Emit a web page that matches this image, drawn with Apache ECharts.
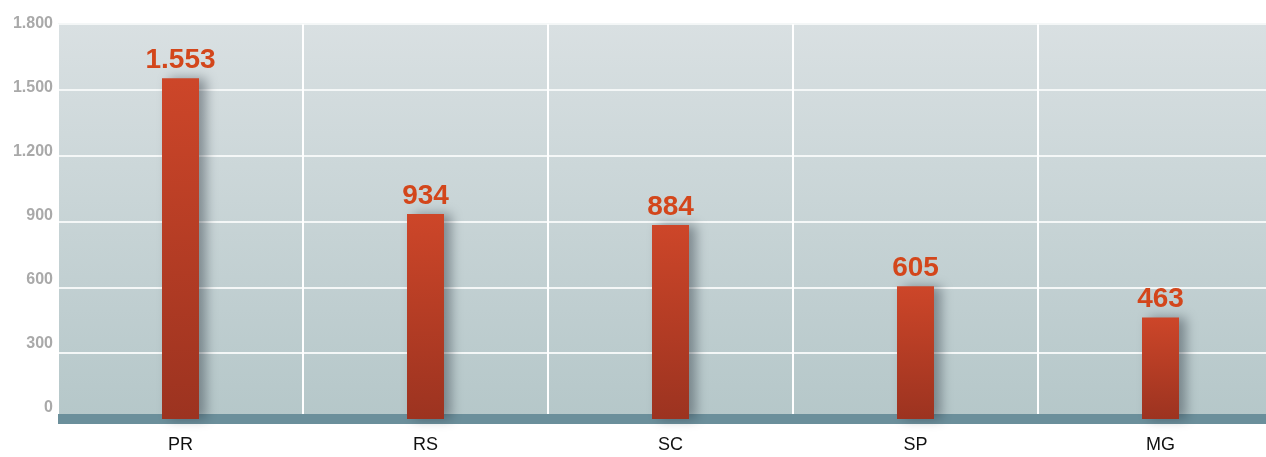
<!DOCTYPE html>
<html>
<head>
<meta charset="utf-8">
<script src="https://cdn.jsdelivr.net/npm/echarts@6/dist/echarts.min.js"></script>
<style>html,body{margin:0;padding:0;background:#fff}#c{width:1266px;height:457px}</style>
</head>
<body>
<div id="c"></div>
<script>
const categories = ['PR', 'RS', 'SC', 'SP', 'MG'];
const values = [1553, 934, 884, 605, 463];
const yTicks = [0, 300, 600, 900, 1200, 1500, 1800];

function fmt(v) {
  return String(v).replace(/\B(?=(\d{3})+(?!\d))/g, '.');
}

const chart = echarts.init(document.getElementById('c'), null, {renderer: 'canvas'});
chart.setOption({
  animation: false,
  grid: {
    left: 58, top: 24, width: 1225, bottom: 38,
    outerBoundsMode: 'none',
    containLabel: false,
    show: true, borderWidth: 0,
    backgroundColor: new echarts.graphic.LinearGradient(0, 0, 0, 1, [
      {offset: 0, color: '#d9e0e2'},
      {offset: 1, color: '#b5c7c9'}
    ])
  },
  xAxis: {
    type: 'category',
    data: categories,
    axisTick: {show: false},
    axisLine: {show: true, lineStyle: {color: '#6b8f9b', width: 10, cap: 'butt'}},
    splitLine: {show: true, lineStyle: {color: '#ffffff', width: 2}},
    axisLabel: {
      color: '#111', fontSize: 18, margin: 17,
      fontFamily: 'Liberation Sans, sans-serif'
    }
  },
  yAxis: [{
    type: 'value',
    min: yTicks[0], max: yTicks[yTicks.length - 1], interval: 300,
    axisLine: {show: false},
    axisTick: {show: false},
    splitLine: {show: true, lineStyle: {color: '#f4f7f7', width: 2}},
    axisLabel: {show: false}
  }, {
    // label-only axis: the original's tick labels sit on a slightly tighter scale than its gridlines
    type: 'value',
    position: 'left',
    min: -52, max: 1800,
    axisLine: {show: false},
    axisTick: {show: false},
    splitLine: {show: false},
    axisLabel: {
      customValues: yTicks,
      color: '#a9a9a9', fontSize: 16, fontWeight: 'bold', margin: 5,
      verticalAlign: 'middle',
      padding: [0, 0, 4, 0],
      fontFamily: 'Liberation Sans, sans-serif',
      formatter: fmt
    }
  }],
  series: [{
    type: 'bar',
    yAxisIndex: 0,
    data: values,
    barWidth: 37,
    itemStyle: {
      color: new echarts.graphic.LinearGradient(0, 0, 0, 1, [
        {offset: 0, color: '#cd4629'},
        {offset: 1, color: '#9c3320'}
      ]),
      shadowColor: 'rgba(40,50,60,0.45)',
      shadowBlur: 12,
      shadowOffsetX: 7,
      shadowOffsetY: 0
    },
    label: {
      show: true, position: 'top', distance: 4,
      color: '#d3461b', fontSize: 28, fontWeight: 'bold',
      fontFamily: 'Liberation Sans, sans-serif',
      formatter: p => fmt(p.value)
    }
  }]
});
</script>
</body>
</html>
